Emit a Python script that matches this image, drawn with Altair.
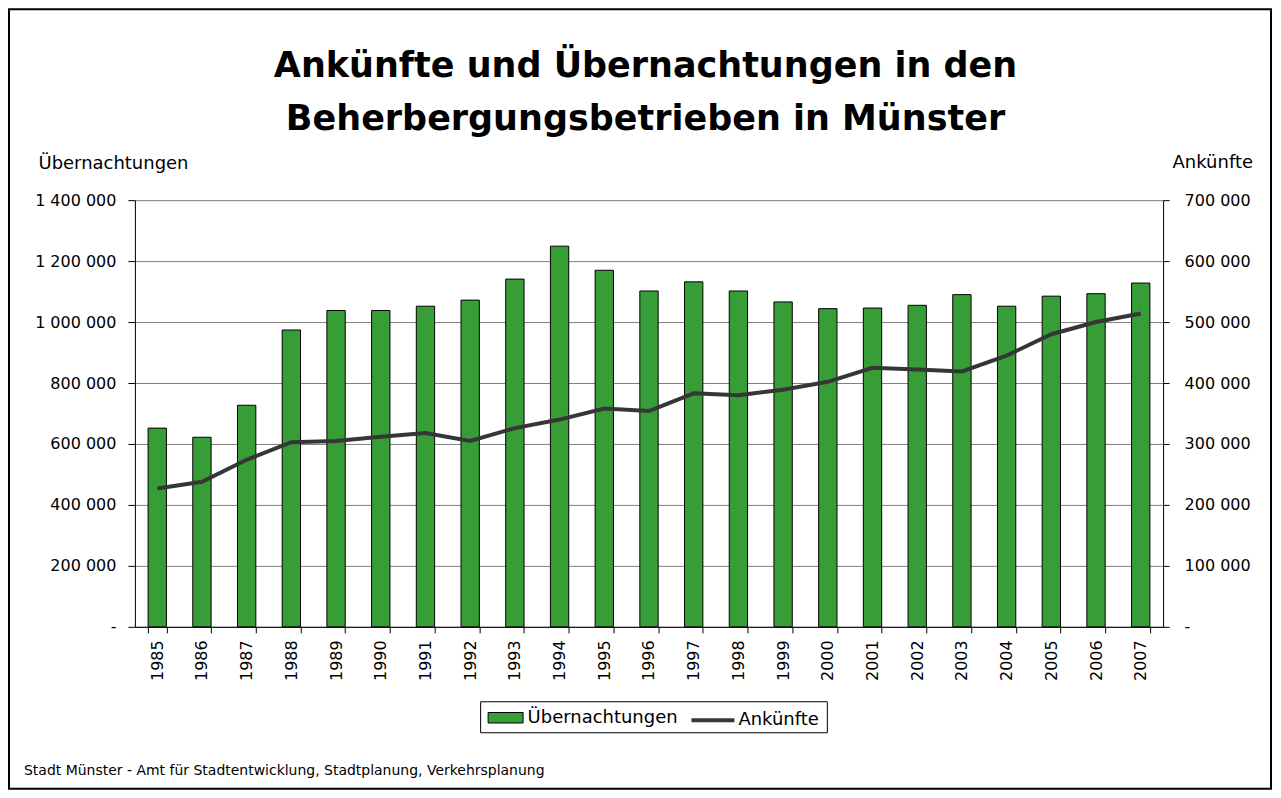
import altair as alt
import pandas as pd

years = ["1985", "1986", "1987", "1988", "1989", "1990", "1991", "1992", "1993",
         "1994", "1995", "1996", "1997", "1998", "1999", "2000", "2001", "2002",
         "2003", "2004", "2005", "2006", "2007"]
uebernachtungen = [652000, 622000, 727000, 974000, 1038000, 1038000, 1052000, 1072000,
                   1141000, 1249000, 1170000, 1102000, 1132000, 1102000, 1066000, 1044000,
                   1046000, 1055000, 1090000, 1052000, 1085000, 1093000, 1128000]
ankuenfte = [227000, 238000, 274000, 303000, 305000, 312000, 318000, 305000, 326000,
             340000, 358000, 354000, 383000, 380000, 389000, 402000, 425000, 422000,
             419000, 445000, 480000, 500000, 514000]
left_ticks = [0, 200000, 400000, 600000, 800000, 1000000, 1200000, 1400000]
right_ticks = [0, 100000, 200000, 300000, 400000, 500000, 600000, 700000]

title_lines = ["Ankünfte und Übernachtungen in den", "Beherbergungsbetrieben in Münster"]
left_title = "Übernachtungen"
right_title = "Ankünfte"
footer = "Stadt Münster - Amt für Stadtentwicklung, Stadtplanung, Verkehrsplanung"

FONT = "DejaVu Sans"
GREEN = "#379e37"
LINE = "#363636"

df = pd.DataFrame({
    "Jahr": years,
    "ueb": uebernachtungen,
    "ank": ankuenfte,
    "s1": ["Übernachtungen"] * len(years),
    "s2": ["Ankünfte"] * len(years),
})

label_expr = ("datum.value == 0 ? '-' : "
              "replace(replace(format(datum.value, ','), ',', ' '), ',', ' ')")

x_enc = alt.X(
    "Jahr:N", sort=None,
    scale=alt.Scale(paddingInner=0.59, paddingOuter=0.295),
    axis=alt.Axis(title=None, labelAngle=-90, labelAlign="right", labelBaseline="middle",
                  labelFont=FONT, labelFontSize=16, labelColor="black", labelPadding=7,
                  tickBand="extent", tickSize=6, tickColor="black", domainColor="black",
                  domainWidth=1, grid=False),
)

bars = alt.Chart(df).mark_bar(stroke="black", strokeWidth=1).encode(
    x=x_enc,
    y=alt.Y("ueb:Q", scale=alt.Scale(domain=[0, 1400000], nice=False),
            axis=alt.Axis(orient="left", values=left_ticks, labelExpr=label_expr,
                          title=left_title, titleAngle=0, titleAlign="left",
                          titleBaseline="alphabetic", titleX=-97, titleY=-32,
                          titleFont=FONT, titleFontSize=18, titleFontWeight="normal",
                          titleColor="black",
                          labelFont=FONT, labelFontSize=16, labelColor="black",
                          labelPadding=12, tickSize=7, tickColor="black",
                          domainColor="black", grid=True, gridColor="#808080",
                          gridWidth=1)),
    fill=alt.Fill("s1:N", scale=alt.Scale(domain=["Übernachtungen"], range=[GREEN]),
                  legend=alt.Legend(orient="none", legendX=353, legendY=500,
                                    direction="horizontal", title=None,
                                    symbolType="M-1,-0.3H1V0.3H-1Z", symbolSize=1225,
                                    symbolStrokeColor="black", symbolStrokeWidth=1,
                                    symbolOpacity=1,
                                    labelFont=FONT, labelFontSize=18, labelColor="black",
                                    labelOffset=4, padding=0)),
)

line = alt.Chart(df).mark_line(strokeWidth=4).encode(
    x=x_enc,
    y=alt.Y("ank:Q", scale=alt.Scale(domain=[0, 700000], nice=False),
            axis=alt.Axis(orient="right", values=right_ticks, labelExpr=label_expr,
                          title=right_title, titleAngle=0, titleAlign="left",
                          titleBaseline="alphabetic", titleX=9, titleY=-33,
                          titleFont=FONT, titleFontSize=18, titleFontWeight="normal",
                          titleColor="black",
                          labelFont=FONT, labelFontSize=16, labelColor="black",
                          labelPadding=15, tickSize=6, tickColor="black",
                          domainColor="black", grid=False)),
    stroke=alt.Stroke("s2:N", scale=alt.Scale(domain=["Ankünfte"], range=[LINE]),
                      legend=alt.Legend(orient="none", legendX=555, legendY=497,
                                        direction="horizontal", title=None,
                                        symbolType="stroke", symbolSize=1849,
                                        symbolStrokeWidth=4,
                                        labelFont=FONT, labelFontSize=18,
                                        labelColor="black", labelOffset=2, padding=0)),
)

one = pd.DataFrame({"t": [footer], "t1": [title_lines[0]], "t2": [title_lines[1]]})

legend_box = alt.Chart(one).mark_rect(fill=None, stroke="black", strokeWidth=1).encode(
    x=alt.value(346), x2=alt.value(693), y=alt.value(502), y2=alt.value(533))

frame = alt.Chart(one).mark_rect(fill=None, stroke="black", strokeWidth=2).encode(
    x=alt.value(-126), x2=alt.value(1137), y=alt.value(-191), y2=alt.value(589))

foot = alt.Chart(one).mark_text(font=FONT, fontSize=14, align="left",
                                baseline="alphabetic", color="black").encode(
    x=alt.value(-111), y=alt.value(575), text="t:N")

title1 = alt.Chart(one).mark_text(font=FONT, fontSize=35, fontWeight="bold",
                                  align="center", baseline="alphabetic",
                                  color="black").encode(
    x=alt.value(511), y=alt.value(-123), text="t1:N")

title2 = alt.Chart(one).mark_text(font=FONT, fontSize=35, fontWeight="bold",
                                  align="center", baseline="alphabetic",
                                  color="black").encode(
    x=alt.value(511), y=alt.value(-70), text="t2:N")

chart = alt.layer(bars, line, legend_box, frame, foot, title1, title2).resolve_scale(
    y="independent", fill="independent", stroke="independent"
).properties(
    width=1029, height=427,
    autosize=alt.AutoSizeParams(type="none"),
    padding={"left": 127, "top": 192, "right": 110, "bottom": 164},
).configure_view(stroke=None).configure(background="white")

chart.save("out.html", embed_options={"renderer": "svg", "actions": False})
